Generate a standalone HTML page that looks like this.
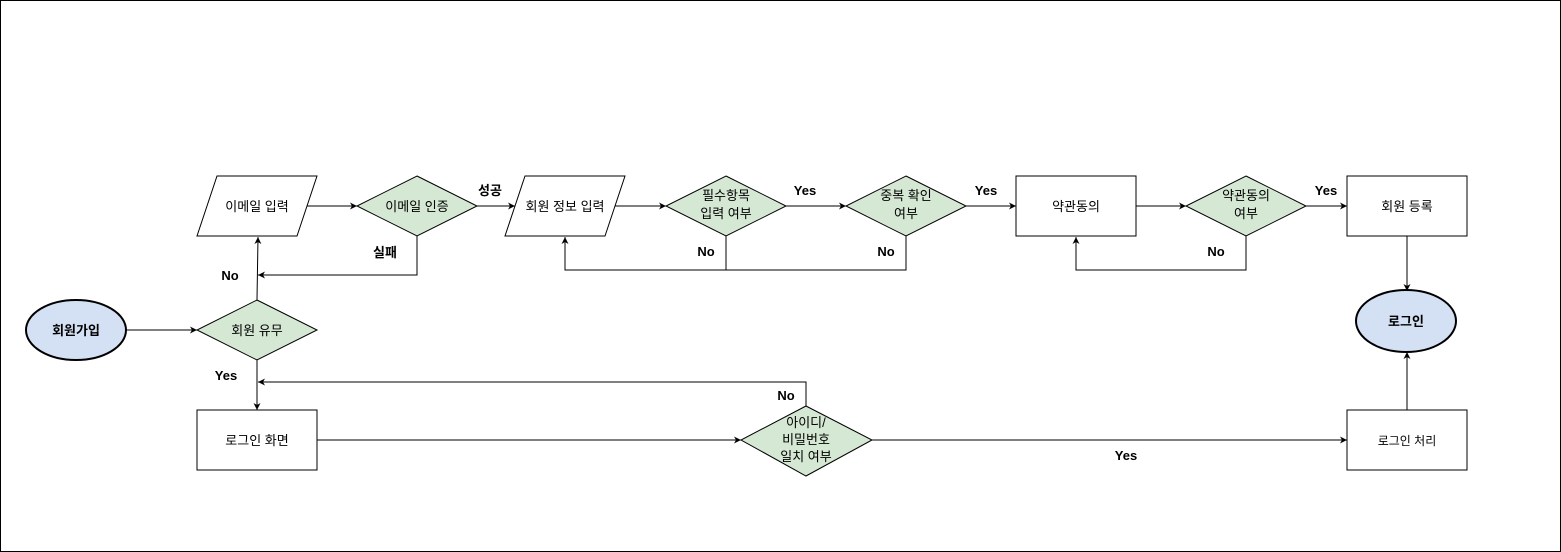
<!DOCTYPE html>
<html><head><meta charset="utf-8"><style>
body{margin:0;background:#fff}
svg{display:block}
text{font-family:"Liberation Sans","Noto Sans CJK KR",sans-serif;font-size:13px;fill:#000}
.b{font-weight:bold}
</style></head><body>
<svg width="1561" height="552" viewBox="0 0 1561 552" xmlns="http://www.w3.org/2000/svg">
<defs><marker id="a" markerWidth="8" markerHeight="8" refX="7" refY="4" orient="auto" markerUnits="userSpaceOnUse"><path d="M0,0.5 L7,4 L0,7.5 L2,4 Z" fill="#000"/></marker></defs>
<rect x="0.5" y="0.5" width="1560" height="551" fill="#fff" stroke="#000"/>
<g fill="none" stroke="#000" stroke-width="1">
<path d="M126,330 H197" marker-end="url(#a)"/>
<path d="M257,300 L258,237" marker-end="url(#a)"/>
<path d="M307,206 H357" marker-end="url(#a)"/>
<path d="M417,236 V275 H258" marker-end="url(#a)"/>
<path d="M477,206 H515" marker-end="url(#a)"/>
<path d="M615,206 H666" marker-end="url(#a)"/>
<path d="M786,206 H846" marker-end="url(#a)"/>
<path d="M966,206 H1016" marker-end="url(#a)"/>
<path d="M726,236 V270 H565 V237" marker-end="url(#a)"/>
<path d="M906,236 V270 H726"/>
<path d="M1136,206 H1186" marker-end="url(#a)"/>
<path d="M1306,206 H1347" marker-end="url(#a)"/>
<path d="M1246,236 V270 H1076 V237" marker-end="url(#a)"/>
<path d="M1407,236 V291" marker-end="url(#a)"/>
<path d="M1407,410 V352" marker-end="url(#a)"/>
<path d="M257,360 V410" marker-end="url(#a)"/>
<path d="M806,410 V382 H258" marker-end="url(#a)"/>
<path d="M317,440 H741" marker-end="url(#a)"/>
<path d="M872,440 H1347" marker-end="url(#a)"/>
</g>
<g stroke="#000" stroke-width="1">
<ellipse cx="76" cy="330" rx="50" ry="30" fill="#d4e0f3" stroke-width="2"/>
<ellipse cx="1406" cy="321" rx="50" ry="31" fill="#d4e0f3" stroke-width="2"/>
<polygon points="257,300 317,330 257,360 197,330" fill="#d5e8d4"/>
<polygon points="417,176 477,206 417,236 357,206" fill="#d5e8d4"/>
<polygon points="726,176 786,206 726,236 666,206" fill="#d5e8d4"/>
<polygon points="906,176 966,206 906,236 846,206" fill="#d5e8d4"/>
<polygon points="1246,176 1306,206 1246,236 1186,206" fill="#d5e8d4"/>
<polygon points="806,406 872,440 806,476 741,440" fill="#d5e8d4"/>
<polygon points="217,176 317,176 297,236 197,236" fill="#fff"/>
<polygon points="525,176 625,176 605,236 505,236" fill="#fff"/>
<rect x="1016" y="176" width="120" height="60" fill="#fff"/>
<rect x="1347" y="176" width="120" height="60" fill="#fff"/>
<rect x="197" y="410" width="120" height="60" fill="#fff"/>
<rect x="1347" y="410" width="120" height="60" fill="#fff"/>
</g>
<g text-anchor="middle">
<text x="76" y="335" class="b">회원가입</text>
<text x="1406" y="326" class="b">로그인</text>
<text x="257" y="335">회원 유무</text>
<text x="257" y="211">이메일 입력</text>
<text x="417" y="211">이메일 인증</text>
<text x="565" y="211">회원 정보 입력</text>
<text x="726" y="200">필수항목</text>
<text x="726" y="218">입력 여부</text>
<text x="906" y="200">중복 확인</text>
<text x="906" y="218">여부</text>
<text x="1076" y="211">약관동의</text>
<text x="1246" y="200">약관동의</text>
<text x="1246" y="218">여부</text>
<text x="1407" y="211">회원 등록</text>
<text x="257" y="445">로그인 화면</text>
<text x="806" y="427">아이디/</text>
<text x="806" y="444">비밀번호</text>
<text x="806" y="461">일치 여부</text>
<text x="1407" y="445" style="font-size:12px">로그인 처리</text>
</g>
<g class="b" text-anchor="middle">
<text x="490" y="195" class="b">성공</text>
<text x="385" y="257" class="b">실패</text>
<text x="230" y="280" class="b">No</text>
<text x="226" y="380" class="b">Yes</text>
<text x="805" y="195" class="b">Yes</text>
<text x="986" y="195" class="b">Yes</text>
<text x="1326" y="195" class="b">Yes</text>
<text x="706" y="256" class="b">No</text>
<text x="886" y="256" class="b">No</text>
<text x="1216" y="256" class="b">No</text>
<text x="786" y="400" class="b">No</text>
<text x="1126" y="460" class="b">Yes</text>
</g>
</svg>
</body></html>
